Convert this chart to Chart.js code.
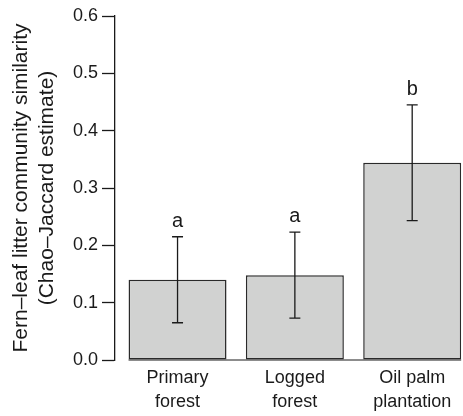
<!DOCTYPE html>
<html>
<head>
<meta charset="utf-8">
<script src="https://cdn.jsdelivr.net/npm/chart.js@4"></script>
<style>
  html, body { margin: 0; padding: 0; background: #fff; overflow: hidden; }
</style>
</head>
<body>
<canvas id="grafico" width="463" height="416"></canvas>
<script>
// dati
const categorie = [['Primary', 'forest'], ['Logged', 'forest'], ['Oil palm', 'plantation']];
const medie = [0.14, 0.148, 0.344];
const erroreBasso = [0.065, 0.073, 0.243];
const erroreAlto = [0.215, 0.223, 0.445];
const lettere = ['a', 'a', 'b'];
const tickY = [0, 0.1, 0.2, 0.3, 0.4, 0.5, 0.6];

const font = '"Liberation Sans", Arial, sans-serif';
const nero = '#1a1a1a';

const barreErrore = {
    id: 'barreErrore',
    afterDatasetsDraw(chart) {
        const ctx = chart.ctx;
        const y = chart.scales.y;
        const meta = chart.getDatasetMeta(0);
        ctx.save();

        // linea di base sotto le barre
        const primo = meta.data[0];
        const ultimo = meta.data[meta.data.length - 1];
        ctx.strokeStyle = nero;
        ctx.lineWidth = 1;
        ctx.beginPath();
        ctx.moveTo(primo.x - primo.width / 2, y.getPixelForValue(0));
        ctx.lineTo(ultimo.x + ultimo.width / 2, y.getPixelForValue(0));
        ctx.stroke();

        ctx.lineWidth = 1.3;
        meta.data.forEach((bar, i) => {
            const yAlto = y.getPixelForValue(erroreAlto[i]);
            const yBasso = y.getPixelForValue(erroreBasso[i]);
            ctx.beginPath();
            ctx.moveTo(bar.x, yAlto);
            ctx.lineTo(bar.x, yBasso);
            ctx.moveTo(bar.x - 5.5, yAlto);
            ctx.lineTo(bar.x + 5.5, yAlto);
            ctx.moveTo(bar.x - 5.5, yBasso);
            ctx.lineTo(bar.x + 5.5, yBasso);
            ctx.stroke();

            ctx.fillStyle = nero;
            ctx.font = '20px ' + font;
            ctx.textAlign = 'center';
            ctx.textBaseline = 'alphabetic';
            ctx.fillText(lettere[i], bar.x, yAlto - 10);
        });
        ctx.restore();
    }
};

new Chart(document.getElementById('grafico'), {
    type: 'bar',
    data: {
        datasets: [{
            data: medie.map((v, i) => ({ x: i + 1, y: v })),
            backgroundColor: '#d1d2d1',
            borderColor: '#2a2a2a',
            borderWidth: 1.5,
            borderSkipped: false,
            categoryPercentage: 1,
            barPercentage: 0.835
        }]
    },
    options: {
        responsive: false,
        animation: false,
        devicePixelRatio: 1,
        layout: { padding: { top: 16, right: 0, left: 0, bottom: 0 } },
        plugins: {
            legend: { display: false },
            tooltip: { enabled: false }
        },
        scales: {
            x: {
                type: 'linear',
                offset: false,
                min: 0.467,
                max: 3.433,
                grid: { display: false, drawTicks: false, offset: false },
                border: { display: false },
                afterBuildTicks: scale => {
                    scale.ticks = categorie.map((c, i) => ({ value: i + 1 }));
                },
                afterFit: scale => { scale.height = 56; },
                ticks: {
                    color: nero,
                    padding: 6,
                    maxRotation: 0,
                    autoSkip: false,
                    font: { family: font, size: 18, lineHeight: 1.33 },
                    callback: v => categorie[v - 1]
                }
            },
            y: {
                min: 0,
                max: 0.6,
                afterBuildTicks: scale => {
                    scale.ticks = tickY.map(v => ({ value: v }));
                },
                afterFit: scale => { scale.width = 115; },
                grid: { drawOnChartArea: false, drawTicks: true, tickLength: 13, color: nero, tickWidth: 1.3 },
                border: { display: true, color: nero, width: 1.3 },
                ticks: {
                    color: nero,
                    padding: 4,
                    font: { family: font, size: 18 },
                    callback: v => v.toFixed(1)
                },
                title: {
                    display: true,
                    text: ['Fern\u2013leaf litter community similarity', '(Chao\u2013Jaccard estimate)'],
                    color: nero,
                    padding: { top: 9, bottom: 0 },
                    font: { family: font, size: 21, lineHeight: 1.2 }
                }
            }
        }
    },
    plugins: [barreErrore]
});
</script>
</body>
</html>
